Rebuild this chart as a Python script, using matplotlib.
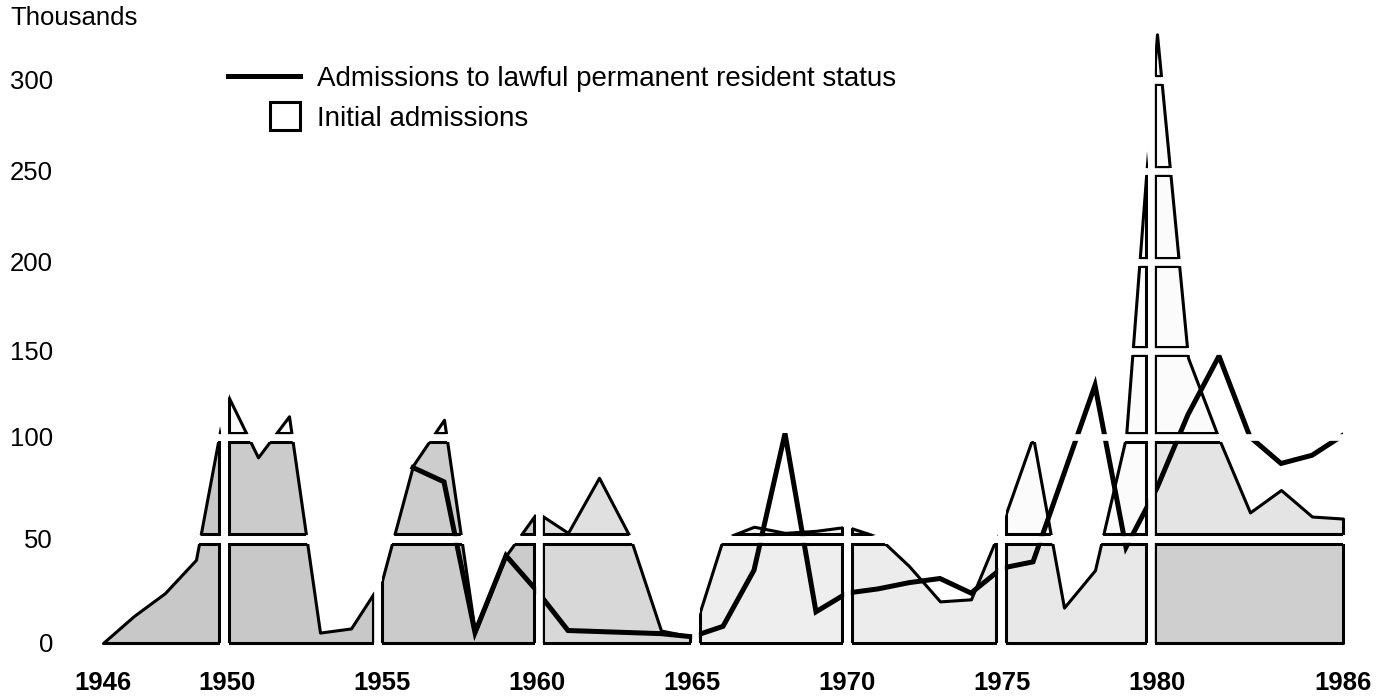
import numpy as np
import matplotlib
matplotlib.use("Agg")
import matplotlib.pyplot as plt
from matplotlib.patches import Rectangle
from matplotlib.lines import Line2D
from matplotlib.legend_handler import HandlerBase

plt.rcParams['font.family'] = ['Liberation Sans', 'DejaVu Sans']

years = np.arange(1946, 1987)

# initial admissions, thousands (shaded area)
initial = [0, 13, 24, 40, 125, 90, 112, 5, 7, 30,
           86, 110, 5, 42, 63, 53, 80, 51, 6, 3,
           50, 56, 53, 54, 56, 51, 37, 20, 21, 57,
           100, 17, 35, 100, 325, 146, 99, 63, 74, 61,
           60]

# admissions to lawful permanent resident status, thousands (line), starts 1956
lpr = [np.nan] * 10 + [85, 78, 5, 42, 25, 6, 5.5, 5, 4.5, 3,
                       8, 35, 102, 15, 24, 26, 29, 31, 24, 36,
                       39, 82, 130, 46, 75, 113, 147, 100, 87, 91,
                       101]

ytick_vals = [0, 50, 100, 150, 200, 250, 300]
xtick_years = [1946, 1950, 1955, 1960, 1965, 1970, 1975, 1980, 1986]
col_edges = [1946, 1950, 1955, 1960, 1965, 1970, 1975, 1980, 1986]
row_edges = [0, 50, 100, 150, 200, 250, 300, 350]

# where the printed white cuts actually fall (they wander a little off the years)
cut_offset = [0, -0.1, -0.15, 0.05, 0.1, 0.0, -0.03, -0.2, 0]

# shading of the blocks, by 5-year column (bottom band / 50-100 band)
bottom_shade = ['#c8c8c8', '#c8c8c8', '#cbcbcb', '#d8d8d8', '#eeeeee', '#ececec', '#e8e8e8', '#cfcfcf']
middle_shade = ['#c8c8c8', '#cbcbcb', '#cdcdcd', '#e0e0e0', '#f2f2f2', '#f2f2f2', '#fbfbfb', '#e4e4e4']

# the printed vertical scale is uneven: bands above 100 are squeezed
knot_vals = [-50, 0, 50, 100, 150, 200, 250, 300, 350]
knot_pos = [-104, 0, 104, 206, 292, 381, 472, 563, 654]


def fwd(v):
    return np.interp(v, knot_vals, knot_pos)


def inv(p):
    return np.interp(p, knot_pos, knot_vals)


class BoxHandler(HandlerBase):
    # open square sitting at the right end of the handle slot
    def create_artists(self, legend, orig_handle, xdescent, ydescent,
                       width, height, fontsize, trans):
        w, h = 1.1 * fontsize, 1.0 * fontsize
        box = Rectangle((width - xdescent - w, height / 2 - ydescent - h / 2), w, h,
                        facecolor='white', edgecolor='black', linewidth=2.2,
                        transform=trans)
        return [box]


fig = plt.figure(figsize=(13.78, 7.0), dpi=100)
ax = fig.add_axes([103 / 1378, 57 / 700, 1240 / 1378, 636 / 700])
ax.set_yscale('function', functions=(fwd, inv))
ax.set_xlim(1946, 1986)
ax.set_ylim(0, 340)

gx = 0.15      # half of the white gap, years
gy = 2.3       # half of the white gap, thousands
lw_edge = 2.2

ncol = len(col_edges) - 1
for ci in range(ncol):
    c0 = col_edges[ci] + cut_offset[ci]
    c1 = col_edges[ci + 1] + cut_offset[ci + 1]
    x0 = c0 + gx if ci > 0 else c0 - 1
    x1 = c1 - gx if ci < ncol - 1 else c1 + 1
    in_col = [v for yr, v in zip(years, initial) if col_edges[ci] <= yr <= col_edges[ci + 1]]
    top = max(in_col)
    for ri in range(len(row_edges) - 1):
        y0 = row_edges[ri] + (gy if ri > 0 else -3)
        y1 = row_edges[ri + 1] - gy
        if top <= y0:
            continue
        if ri == 0:
            shade = bottom_shade[ci]
        elif ri == 1:
            shade = middle_shade[ci]
        else:
            shade = '#fbfbfb'
        fb = ax.fill_between(years, 0, initial, facecolor=shade, edgecolor='black',
                             linewidth=lw_edge, zorder=2)
        fb.set_clip_path(Rectangle((x0, y0), x1 - x0, y1 - y0, transform=ax.transData))
        frame = Rectangle((x0, y0), x1 - x0, y1 - y0, fill=False, edgecolor='black',
                          linewidth=lw_edge, zorder=2)
        ax.add_patch(frame)
        frame.set_clip_path(fb.get_paths()[0], ax.transData)
    # white horizontal cuts only as high as the column's blocks reach
    for v in ytick_vals[1:]:
        if v < top:
            ax.hlines(v, c0, c1, color='white', linewidth=4.8, zorder=4)

ax.plot(years, lpr, color='black', linewidth=3.6, solid_joinstyle='miter', zorder=3)

for yr, off in zip(col_edges[1:-1], cut_offset[1:-1]):
    ax.axvline(yr + off, color='white', linewidth=4.8, zorder=4)

for s in ax.spines.values():
    s.set_visible(False)
ax.set_yticks(ytick_vals)
ax.set_yticklabels([str(v) for v in ytick_vals], fontsize=18.5)
ax.set_xticks(xtick_years)
ax.set_xticklabels([str(v) for v in xtick_years], fontsize=18.5, fontweight='bold')
ax.tick_params(axis='y', length=0, pad=36)
ax.tick_params(axis='x', length=0, pad=20)

fig.text(10 / 1378, 1 - 18 / 700, 'Thousands', fontsize=18.5, ha='left', va='center')

h_line = Line2D([], [], color='black', linewidth=3.6)
h_box = Rectangle((0, 0), 1, 1)
leg = ax.legend([h_line, h_box],
                ['Admissions to lawful permanent resident status', 'Initial admissions'],
                handler_map={Rectangle: BoxHandler()},
                loc='upper left', bbox_to_anchor=(228 / 1378, 1 - 66 / 700),
                bbox_transform=fig.transFigure, frameon=False, fontsize=20,
                handlelength=2.6, handletextpad=0.6, labelspacing=0.5,
                borderpad=0, borderaxespad=0)
leg.set_zorder(6)

fig.savefig('out.png', dpi=100, facecolor='white')
